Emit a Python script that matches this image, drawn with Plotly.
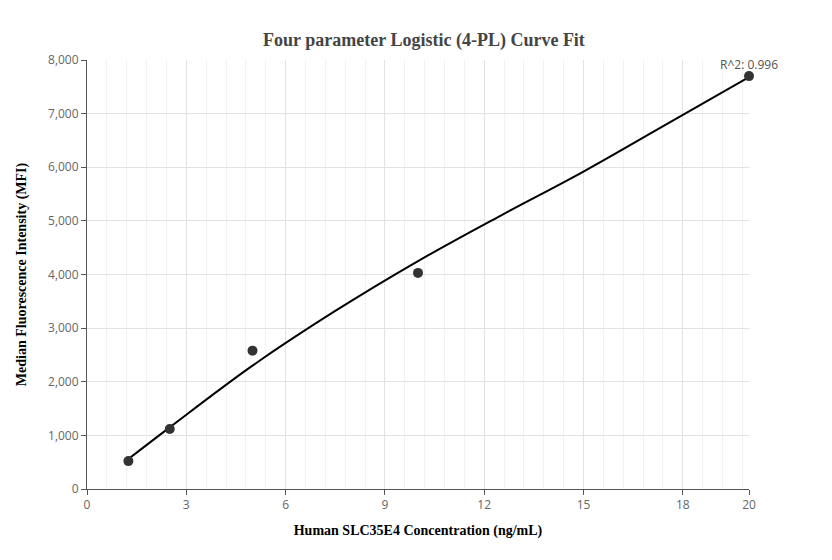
import plotly.graph_objects as go

# measured standards
conc = [1.25, 2.5, 5, 10, 20]
mfi = [520, 1120, 2580, 4030, 7700]

# fitted 4-PL curve
fit_x = [1.25, 2.5, 5, 7.5, 10, 12.5, 15, 17.5, 20]
fit_y = [560, 1150, 2300, 3320, 4250, 5100, 5920, 6800, 7680]

fig = go.Figure()
fig.add_trace(go.Scatter(x=fit_x, y=fit_y, mode="lines", line=dict(color="black", width=2, shape="spline"),
                         hoverinfo="skip", cliponaxis=False))
fig.add_trace(go.Scatter(x=conc, y=mfi, mode="markers", marker=dict(color="#333333", size=10),
                         cliponaxis=False))

fig.add_annotation(x=20, y=7700, text="R^2: 0.996", showarrow=False, yshift=12,
                   font=dict(family="Open Sans", size=12, color="#555"))

fig.update_layout(
    width=832, height=560, showlegend=False, plot_bgcolor="white", paper_bgcolor="white",
    margin=dict(l=74, r=91, t=52, b=79),
    title=dict(text="<b>Four parameter Logistic (4-PL) Curve Fit</b>", x=0.5, y=0.955,
               font=dict(family="Liberation Serif", size=18, color="#444")),
    xaxis=dict(range=[0, 20], tickvals=[0, 3, 6, 9, 12, 15, 18, 20], showline=True, linecolor="#555",
               ticks="outside", ticklen=5, tickcolor="#555", gridcolor="#e2e2e2",
               minor=dict(dtick=0.6, showgrid=True, gridcolor="#f2f2f2"),
               tickfont=dict(family="Open Sans", size=12, color="#666"),
               title=dict(text="<b>Human SLC35E4 Concentration (ng/mL)</b>", standoff=12,
                          font=dict(family="Liberation Serif", size=14, color="black"))),
    yaxis=dict(range=[0, 8000], dtick=1000, tickformat=",", showline=True, linecolor="#555",
               ticks="outside", ticklen=5, tickcolor="#555", gridcolor="#e2e2e2", zeroline=False,
               tickfont=dict(family="Open Sans", size=12, color="#666"),
               title=dict(text="<b>Median Fluorescence Intensity (MFI)</b>", standoff=18,
                          font=dict(family="Liberation Serif", size=14, color="black"))),
)

fig.write_html("out.html")
